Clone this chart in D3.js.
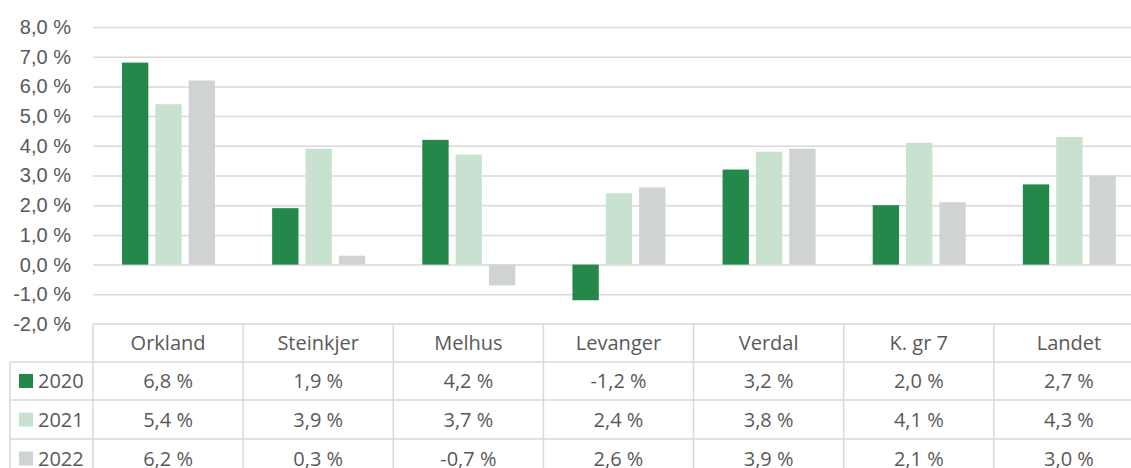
<!DOCTYPE html>
<html>
<head>
<meta charset="utf-8">
<script src="https://cdn.jsdelivr.net/npm/d3@7"></script>
<style>
  body { margin: 0; background: #fff; }
  svg { font-family: "Open Sans", "Noto Sans", sans-serif; }
</style>
</head>
<body>
<script>
const categories = ["Orkland", "Steinkjer", "Melhus", "Levanger", "Verdal", "K. gr 7", "Landet"];
const years = ["2020", "2021", "2022"];
const values2020 = [6.8, 1.9, 4.2, -1.2, 3.2, 2.0, 2.7];
const values2021 = [5.4, 3.9, 3.7, 2.4, 3.8, 4.1, 4.3];
const values2022 = [6.2, 0.3, -0.7, 2.6, 3.9, 2.1, 3.0];
const yTicks = [-2, -1, 0, 1, 2, 3, 4, 5, 6, 7, 8];
const colors = ["#23884a", "#c9e2d0", "#d0d3d4"];

const seriesValues = [values2020, values2021, values2022];
const w = 1131, h = 468;
const left = 93, right = 1144;
const textColor = "#595959";
const gridColor = "#d9d9d9";

// norsk format: komma som desimaltegn, vanlig bindestrek som minus
const fmt = v => d3.format(".1f")(v).replace(".", ",").replace("\u2212", "-") + " %";

const svg = d3.select("body").append("svg")
    .attr("width", w)
    .attr("height", h);

const x = d3.scaleBand().domain(categories).range([left, right]);
const xInner = d3.scaleBand().domain(years).range([29, 122]).paddingInner(0.21);
const y = d3.scaleLinear().domain([-2, 8]).range([324, 27]);

// gridlines
svg.append("g")
    .attr("transform", `translate(${left},0)`)
    .call(d3.axisLeft(y).tickValues(yTicks.filter(t => t > -2)).tickSize(-(right - left)).tickFormat(""))
    .call(g => g.select(".domain").remove())
    .call(g => g.selectAll("line").attr("stroke", gridColor).attr("stroke-width", 1.5));

// y axis labels
svg.append("g")
    .attr("transform", `translate(71,0)`)
    .call(d3.axisLeft(y).tickValues(yTicks).tickSize(0).tickFormat(fmt))
    .call(g => g.select(".domain").remove())
    .call(g => g.selectAll("text")
        .attr("x", 0)
        .attr("fill", textColor)
        .style("font-size", "20px"));

// bars
years.forEach((yr, si) => {
    svg.append("g").selectAll("rect")
        .data(categories.map((c, i) => ({ c, v: seriesValues[si][i] })))
        .enter()
        .append("rect")
        .attr("x", d => x(d.c) + xInner(yr))
        .attr("width", xInner.bandwidth())
        .attr("y", d => y(Math.max(0, d.v)))
        .attr("height", d => Math.abs(y(d.v) - y(0)))
        .attr("fill", colors[si]);
});

// data table
const rowY = [324, 362, 400, 439, 478];
const legendLeft = 10;
const table = svg.append("g");
const line = (x1, y1, x2, y2) => table.append("line")
    .attr("x1", x1).attr("y1", y1).attr("x2", x2).attr("y2", y2)
    .attr("stroke", gridColor).attr("stroke-width", 1.5);

line(left, rowY[0], right, rowY[0]);
for (let r = 1; r < rowY.length; r++) line(legendLeft, rowY[r], right, rowY[r]);
line(legendLeft, rowY[1], legendLeft, h);
categories.forEach(c => line(x(c), rowY[0], x(c), h));
line(right, rowY[0], right, h);

// header
table.selectAll(".cat")
    .data(categories)
    .enter()
    .append("text")
    .attr("x", d => x(d) + x.bandwidth() / 2)
    .attr("y", (rowY[0] + rowY[1]) / 2)
    .attr("dy", "0.35em")
    .attr("text-anchor", "middle")
    .attr("fill", textColor)
    .style("font-size", "20px")
    .text(d => d);

// rows
years.forEach((yr, si) => {
    const cy = (rowY[si + 1] + rowY[si + 2]) / 2;
    table.append("rect")
        .attr("x", 19).attr("y", cy - 7)
        .attr("width", 14).attr("height", 14)
        .attr("fill", colors[si]);
    table.append("text")
        .attr("x", 38).attr("y", cy)
        .attr("dy", "0.35em")
        .attr("fill", textColor)
        .style("font-size", "20px")
        .text(yr);
    table.append("g").selectAll("text")
        .data(categories.map((c, i) => ({ c, v: seriesValues[si][i] })))
        .enter()
        .append("text")
        .attr("x", d => x(d.c) + x.bandwidth() / 2)
        .attr("y", cy)
        .attr("dy", "0.35em")
        .attr("text-anchor", "middle")
        .attr("fill", textColor)
        .style("font-size", "20px")
        .text(d => fmt(d.v));
});
</script>
</body>
</html>
